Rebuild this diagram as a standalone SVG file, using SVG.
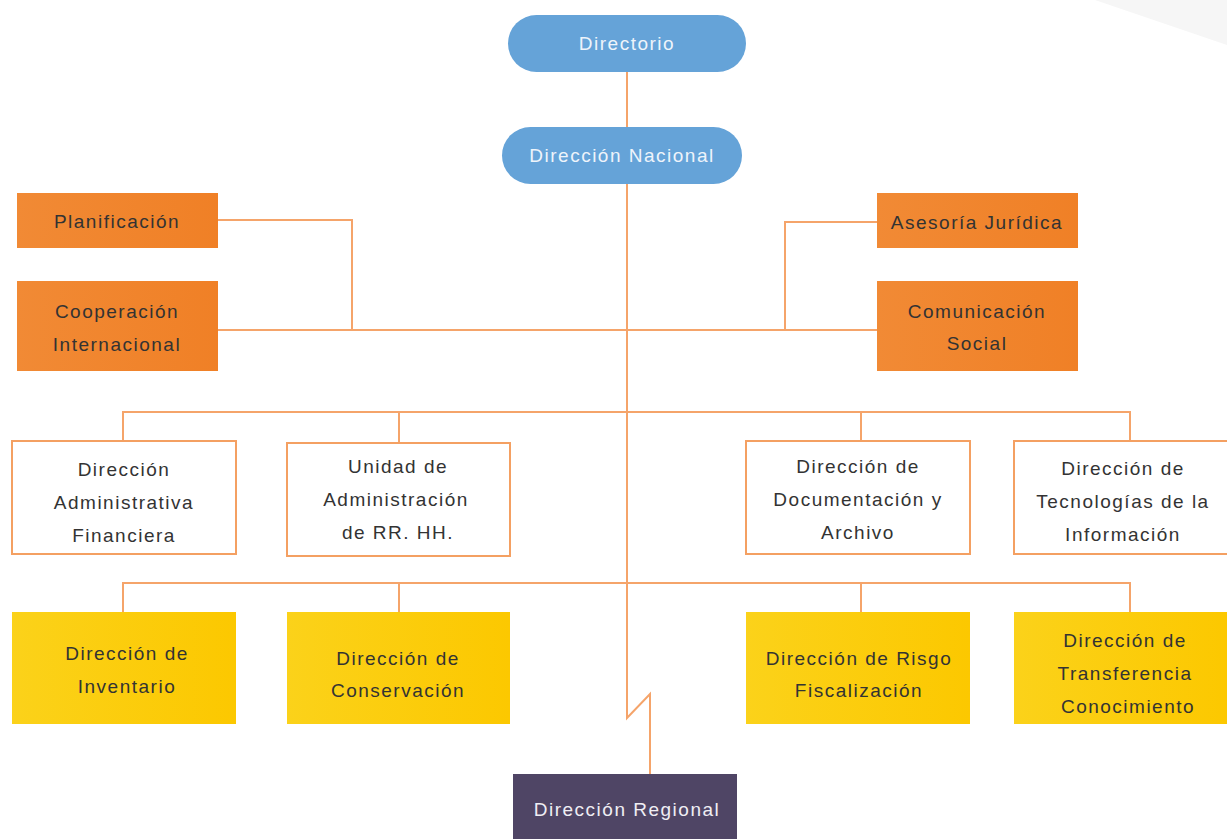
<svg xmlns="http://www.w3.org/2000/svg" width="1227" height="839" viewBox="0 0 1227 839">
<defs>
<linearGradient id="og" x1="0" y1="0" x2="1" y2="0"><stop offset="0" stop-color="#f18a35"/><stop offset="1" stop-color="#f08026"/></linearGradient>
<linearGradient id="yg" x1="0" y1="0" x2="1" y2="0"><stop offset="0" stop-color="#fbd21a"/><stop offset="1" stop-color="#fcc800"/></linearGradient>
</defs>
<style>
text{font-family:"Liberation Sans",Arial,sans-serif;font-size:19px;letter-spacing:1.5px;text-anchor:middle;fill:#333}
.pill{fill:#65a3d8}
.pill-t{fill:#eef4fb}
.org{fill:url(#og)}
.wht{fill:#fff;stroke:#f4a062;stroke-width:2}
.yel{fill:url(#yg)}
.reg{fill:#4f4565}
.reg-t{fill:#f0eef4}
.ln{fill:none;stroke:#f5a46a;stroke-width:2}
</style>
<rect width="1227" height="839" fill="#fff"/>
<polygon points="1095,0 1227,0 1227,45" fill="#f6f6f6"/>
<g id="connectors">
<path class="ln" d="M627,72V127"/>
<path class="ln" d="M627,184V718L650,694V774"/>
<path class="ln" d="M218,220H352V330"/>
<path class="ln" d="M877,222H785V330"/>
<path class="ln" d="M218,330H877"/>
<path class="ln" d="M123,441V412H1130V441M399,412V443M861,412V441"/>
<path class="ln" d="M123,612V583H1130V612M399,583V612M861,583V612"/>
</g>
<g id="directorio"><rect class="pill" x="508" y="15" width="238" height="57" rx="28.5"/><text class="pill-t" x="627" y="50">Directorio</text></g>
<g id="direccion-nacional"><rect class="pill" x="502" y="127" width="240" height="57" rx="28.5"/><text class="pill-t" x="622" y="162">Dirección Nacional</text></g>
<g id="planificacion"><rect class="org" x="17" y="193" width="201" height="55"/><text x="117" y="228">Planificación</text></g>
<g id="cooperacion"><rect class="org" x="17" y="281" width="201" height="90"/><text x="117" y="318">Cooperación</text><text x="117" y="351">Internacional</text></g>
<g id="asesoria"><rect class="org" x="877" y="193" width="201" height="55"/><text x="977" y="229">Asesoría Jurídica</text></g>
<g id="comunicacion"><rect class="org" x="877" y="281" width="201" height="90"/><text x="977" y="318">Comunicación</text><text x="977" y="350">Social</text></g>
<g id="dir-admin"><rect class="wht" x="12" y="441" width="224" height="113"/><text x="124" y="476">Dirección</text><text x="124" y="509">Administrativa</text><text x="124" y="542">Financiera</text></g>
<g id="rrhh"><rect class="wht" x="287" y="443" width="223" height="113"/><text x="398" y="473">Unidad de</text><text x="396" y="506">Administración</text><text x="398" y="539">de RR. HH.</text></g>
<g id="documentacion"><rect class="wht" x="746" y="441" width="224" height="113"/><text x="858" y="473">Dirección de</text><text x="858" y="506">Documentación y</text><text x="858" y="539">Archivo</text></g>
<g id="tecnologias"><rect class="wht" x="1014" y="441" width="216" height="113"/><text x="1123" y="475">Dirección de</text><text x="1123" y="508">Tecnologías de la</text><text x="1123" y="541">Información</text></g>
<g id="inventario"><rect class="yel" x="12" y="612" width="224" height="112"/><text x="127" y="660">Dirección de</text><text x="127" y="693">Inventario</text></g>
<g id="conservacion"><rect class="yel" x="287" y="612" width="223" height="112"/><text x="398" y="665">Dirección de</text><text x="398" y="697">Conservación</text></g>
<g id="riesgo"><rect class="yel" x="746" y="612" width="224" height="112"/><text x="859" y="665">Dirección de Risgo</text><text x="859" y="697">Fiscalización</text></g>
<g id="transferencia"><rect class="yel" x="1014" y="612" width="213" height="112"/><text x="1125" y="647">Dirección de</text><text x="1125" y="680">Transferencia</text><text x="1128" y="713">Conocimiento</text></g>
<g id="regional"><rect class="reg" x="513" y="774" width="224" height="65"/><text class="reg-t" x="627" y="816">Dirección Regional</text></g>
</svg>
